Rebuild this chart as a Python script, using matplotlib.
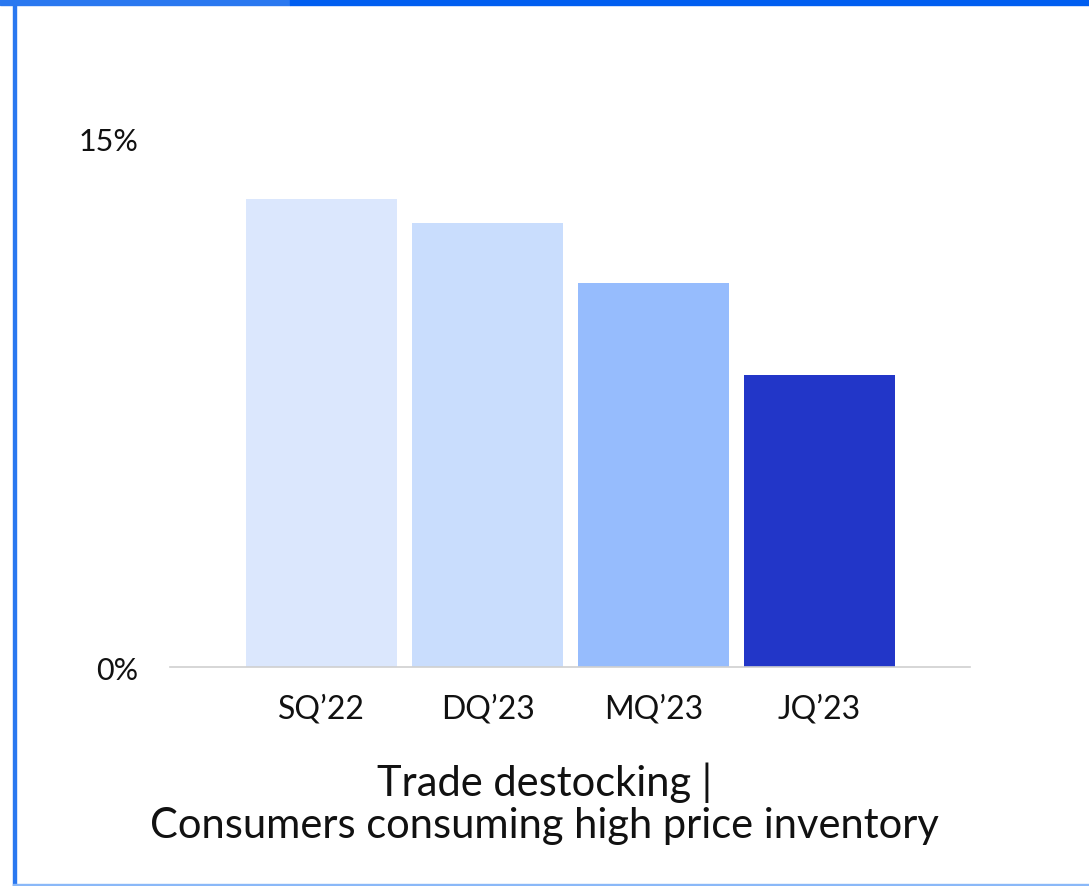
import matplotlib
matplotlib.use("Agg")
import matplotlib.pyplot as plt
from matplotlib.patches import Rectangle

quarters = ["SQ\u201922", "DQ\u201923", "MQ\u201923", "JQ\u201923"]
share = [13.3, 12.6, 10.9, 8.3]
bar_colors = ["#dbe7fd", "#c9ddfd", "#96bcfd", "#2236c8"]
y_ticks = [0, 15]
y_labels = ["0%", "15%"]
title = "Trade destocking |\nConsumers consuming high price inventory"

plt.rcParams["font.family"] = ["Lato", "DejaVu Sans"]

fig = plt.figure(figsize=(10.89, 8.87), dpi=100)
fig.patch.set_facecolor("white")

ax = fig.add_axes([170 / 1089, 1 - 668 / 887, 800 / 1089, 528 / 887])
x = range(len(quarters))
ax.bar(x, share, width=0.91, color=bar_colors)
ax.set_xlim(-0.913, 3.907)
ax.set_ylim(0, 15)
ax.set_yticks(y_ticks)
ax.set_yticklabels(y_labels)
ax.set_xticks(list(x))
ax.set_xticklabels(quarters)
ax.tick_params(axis="y", length=0, labelsize=22, colors="#111111", pad=23)
ax.tick_params(axis="x", length=0, labelsize=23, colors="#111111", pad=19)
for side in ["top", "right", "left"]:
    ax.spines[side].set_visible(False)
ax.spines["bottom"].set_color("#d0d0d0")
ax.spines["bottom"].set_linewidth(1.2)

fig.text(0.5, 1 - 804 / 887, title, ha="center", va="center",
         fontsize=30, color="#111111", linespacing=1.12)

# frame around the card
fig.patches.append(Rectangle((0, 1 - 6 / 887), 290 / 1089, 6 / 887,
                             transform=fig.transFigure, color="#2a78f0"))
fig.patches.append(Rectangle((290 / 1089, 1 - 6 / 887), 1, 6 / 887,
                             transform=fig.transFigure, color="#005ef0"))
fig.patches.append(Rectangle((13 / 1089, 0), 3 / 1089, 1,
                             transform=fig.transFigure, color="#2a78f0"))
fig.patches.append(Rectangle((13 / 1089, 0), 1, 2 / 887,
                             transform=fig.transFigure, color="#8ab8f8"))

fig.savefig("out.png", dpi=100)
